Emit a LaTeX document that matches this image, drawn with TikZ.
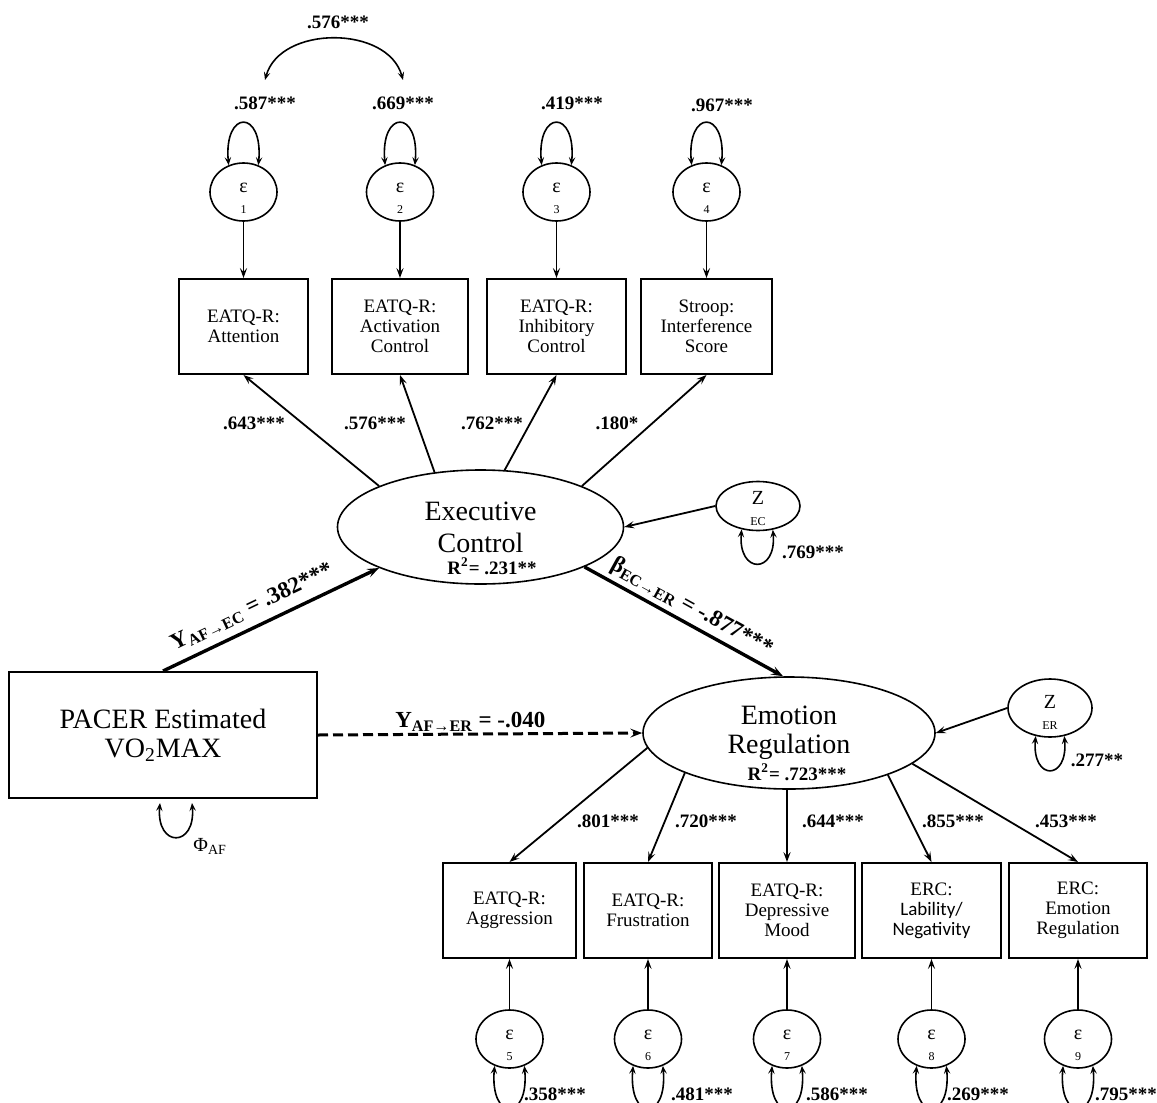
\documentclass[tikz,border=0pt]{standalone}
\usepackage{fontspec}
\setmainfont{Liberation Serif}
\newfontfamily\carlito{Carlito}
\usetikzlibrary{arrows.meta,shapes.geometric,calc}
\newcommand\EpsNode[3]{%
  \node[epsc] (#1) at (#2) {};
  \node[epssym] (#1s) at ($(#1)+(0,-4)$) {ε};
  \node[epsidx] (#1i) at ($(#1)+(0,18)$) {#3};
}
\begin{document}
\begin{tikzpicture}[x=0.5pt,y=-0.5pt]
\tikzset{
  obsbox/.style={draw, line width=1pt, rectangle, minimum height=47.5pt, inner sep=1pt, align=center, font=\fontsize{9.5}{10}\selectfont},
  epsc/.style={draw, ellipse, line width=0.8pt, minimum width=33.5pt, minimum height=29pt, inner sep=0pt},
  latent/.style={draw, ellipse, line width=0.8pt, inner sep=0pt, align=center},
  arr/.style={line width=0.9pt, -{Stealth[length=5pt,width=3.6pt,inset=2pt]}},
  dbl/.style={line width=0.8pt, {Stealth[length=4pt,width=3.2pt,inset=1.6pt]}-{Stealth[length=4pt,width=3.2pt,inset=1.6pt]}},
  thickarr/.style={line width=1.7pt, -{Stealth[length=6pt,width=4.5pt,inset=2.5pt]}},
  numlbl/.style={font=\fontsize{9.5}{10}\selectfont\bfseries, inner sep=0pt},
  plbl/.style={font=\fontsize{11.5}{12}\selectfont\bfseries, inner sep=1pt},
  epssym/.style={font=\fontsize{10}{10}\selectfont, inner sep=0pt},
  epsidx/.style={font=\fontsize{6}{6}\selectfont, inner sep=0pt},
}
\useasboundingbox (0,0) rectangle (1157,1103);
\fill[white] (0,0) rectangle (1157,1103);
\clip (0,0) rectangle (1157,1103);

% observed boxes, top
\node[obsbox, minimum width=64.5pt] (b1) at (243.5,326.5) {EATQ-R:\\Attention};
\node[obsbox, minimum width=68pt] (b2) at (400,326.5) {EATQ-R:\\Activation\\Control};
\node[obsbox, minimum width=69.5pt] (b3) at (556.5,326.5) {EATQ-R:\\Inhibitory\\Control};
\node[obsbox, minimum width=65.5pt] (b4) at (706.5,326.5) {Stroop:\\Interference\\Score};
% observed boxes, bottom
\node[obsbox, minimum width=66.5pt] (b5) at (509.5,910.5) {EATQ-R:\\Aggression};
\node[obsbox, minimum width=64pt] (b6) at (648,910.5) {EATQ-R:\\Frustration};
\node[obsbox, minimum width=68pt] (b7) at (787,910.5) {EATQ-R:\\Depressive\\Mood};
\node[obsbox, minimum width=69.5pt] (b8) at (931.5,910.5) {ERC:\\{\carlito Lability/}\\{\carlito Negativity}};
\node[obsbox, minimum width=69pt] (b9) at (1078,910.5) {ERC:\\Emotion\\Regulation};

% error terms
\EpsNode{e1}{243.5,192}{1}
\EpsNode{e2}{400,192}{2}
\EpsNode{e3}{556.5,192}{3}
\EpsNode{e4}{706.5,192}{4}
\EpsNode{e5}{509.5,1039}{5}
\EpsNode{e6}{648,1039}{6}
\EpsNode{e7}{787,1039}{7}
\EpsNode{e8}{931.5,1039}{8}
\EpsNode{e9}{1078,1039}{9}

% latent variables
\node[latent, minimum width=143pt, minimum height=57pt, font=\fontsize{14}{16}\selectfont] (EC) at (480.5,527) {Executive\\Control};
\node[latent, minimum width=146pt, minimum height=56pt, font=\fontsize{14}{14.5}\selectfont] (ER) at (789,733) {Emotion\\Regulation};
\node[draw, line width=1pt, minimum width=154pt, minimum height=63pt, inner sep=0pt, align=center, font=\fontsize{14}{14.5}\selectfont] (PACER) at (163,735) {PACER Estimated\\VO\textsubscript{2}MAX};

% disturbances
\node[latent, minimum width=42pt, minimum height=24.5pt] (ZEC) at (758,506) {};
\node[epssym] (ZECs) at (758,498) {Z};
\node[epsidx] (ZECi) at (758,522) {EC};
\node[latent, minimum width=42pt, minimum height=29pt] (ZER) at (1050,708) {};
\node[epssym] (ZERs) at (1050,702) {Z};
\node[epsidx] (ZERi) at (1050,726) {ER};

% error -> indicator
\foreach \i in {1,...,9} { \draw[arr] (e\i) -- (b\i); }

% loadings EC
\draw[arr] (EC.158) -- (b1.south);
\draw[arr] (EC.130) -- (b2.south);
\draw[arr] (EC.67) -- (b3.south);
\draw[arr] (EC.22) -- (b4.south);
% loadings ER
\draw[arr] (ER.186) -- (b5.north);
\draw[arr] (ER.201) -- (b6.north);
\draw[arr] (ER.south -| b7.north) -- (b7.north);
\draw[arr] (ER.-23) -- (b8.north);
\draw[arr] (ER.-14) -- (b9.north);

% disturbance paths
\draw[arr] (ZEC.west) -- (EC.east);
\draw[arr] (ZER.west) -- (ER.east);

% structural paths
\draw[thickarr] (PACER.north) -- node[plbl, sloped, above=3pt, pos=0.45] (lAFEC) {Y\textsubscript{AF→EC} = .382***} (EC.202);
\draw[thickarr] (EC.-21) -- node[plbl, sloped, above=1pt, pos=0.5] (lECER) {β\textsubscript{EC→ER} = -.877***} (ER.96);
\draw[line width=1.5pt, dash pattern=on 5pt off 2.5pt, -{Stealth[length=6pt,width=4.5pt,inset=2.5pt]}] (PACER.east) -- node[plbl, pos=0.47, above, inner sep=0.5pt] (lAFER) {Y\textsubscript{AF→ER} = -.040} (ER.west);

% variance loops
\foreach \i in {1,...,4} { \draw[dbl] (e\i.119) .. controls +(-5,-56) and +(5,-56) .. (e\i.61); }
\foreach \i in {5,...,9} { \draw[dbl] (e\i.241) .. controls +(-5,56) and +(5,56) .. (e\i.299); }
\draw[dbl] (ZEC.235) .. controls +(-4,45) and +(4,45) .. (ZEC.302);
\draw[dbl] (ZER.243) .. controls +(-4,45) and +(4,45) .. (ZER.297);
\coordinate (pl1) at ($(PACER.south)+(-3,4)$);
\coordinate (pl2) at ($(PACER.south)+(29,4)$);
\draw[dbl] (pl1) .. controls +(-4,45) and +(4,45) .. (pl2);
\node[anchor=west, font=\fontsize{10}{10}\selectfont, inner sep=0pt] (phi) at (193,846) {Φ\textsubscript{AF}};

% covariance e1-e2
\coordinate (cv1) at ($(e1)+(21.5,-112)$);
\coordinate (cv2) at ($(e2)+(3,-112)$);
\draw[dbl] (cv1) .. controls +(15,-55) and +(-15,-55) .. (cv2);
\node[numlbl] (lcov) at (338,22) {.576***};

% variance labels
\node[numlbl] (v1) at (265,103) {.587***};
\node[numlbl] (v2) at (403,103) {.669***};
\node[numlbl] (v3) at (572,103) {.419***};
\node[numlbl] (v4) at (722,105) {.967***};
\node[numlbl] (v5) at (555,1094) {.358***};
\node[numlbl] (v6) at (702,1094) {.481***};
\node[numlbl] (v7) at (837,1094) {.586***};
\node[numlbl] (v8) at (978,1094) {.269***};
\node[numlbl] (v9) at (1126,1094) {.795***};
\node[numlbl] (vZEC) at (813,552) {.769***};
\node[numlbl] (vZER) at (1097,760) {.277**};

% loading labels
\node[numlbl] (l1) at (254,423) {.643***};
\node[numlbl] (l2) at (375,423) {.576***};
\node[numlbl] (l3) at (492,423) {.762***};
\node[numlbl] (l4) at (617,423) {.180*};
\node[numlbl] (l5) at (608,821) {.801***};
\node[numlbl] (l6) at (706,821) {.720***};
\node[numlbl] (l7) at (833,821) {.644***};
\node[numlbl] (l8) at (953,821) {.855***};
\node[numlbl] (l9) at (1066,821) {.453***};

% R squared
\node[numlbl] (r2ec) at (492,566) {R\textsuperscript{2}= .231**};
\node[numlbl] (r2er) at (797,772) {R\textsuperscript{2}= .723***};
\end{tikzpicture}
\end{document}
